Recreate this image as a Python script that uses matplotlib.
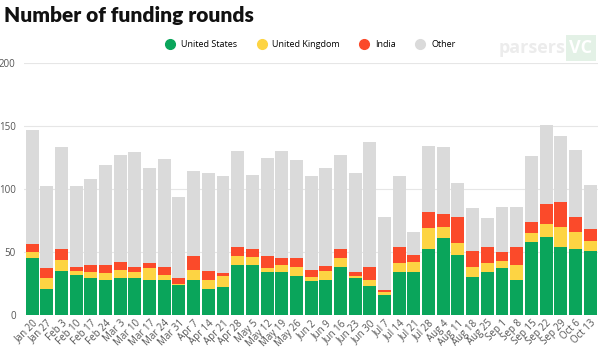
import matplotlib

matplotlib.use("Agg")
import matplotlib.pyplot as plt
import numpy as np

plt.rcParams["font.family"] = ["Open Sans", "DejaVu Sans"]

WEEKS = [
    "Jan 20", "Jan 27", "Feb 3", "Feb 10", "Feb 17", "Feb 24", "Mar 3", "Mar 10",
    "Mar 17", "Mar 24", "Mar 31", "Apr 7", "Apr 14", "Apr 21", "Apr 28", "May 5",
    "May 12", "May 19", "May 26", "Jun 2", "Jun 9", "Jun 16", "Jun 23", "Jun 30",
    "Jul 7", "Jul 14", "Jul 21", "Jul 28", "Aug 4", "Aug 11", "Aug 18", "Aug 25",
    "Sep 1", "Sep 8", "Sep 15", "Sep 22", "Sep 29", "Oct 6", "Oct 13",
]
US = [45, 21, 35, 32, 29, 28, 29, 29, 28, 28, 24, 28, 21, 22, 40, 40, 34, 34, 31, 27,
      28, 38, 29, 23, 16, 34, 34, 52, 61, 48, 30, 34, 37, 28, 58, 62, 54, 52, 51]
UK = [5, 8, 9, 3, 5, 5, 7, 5, 9, 4, 1, 8, 7, 9, 7, 6, 3, 6, 7, 3,
      7, 7, 2, 5, 2, 7, 8, 17, 9, 9, 8, 7, 6, 12, 7, 10, 16, 14, 8]
INDIA = [6, 8, 8, 3, 6, 7, 6, 4, 4, 6, 4, 11, 7, 2, 7, 6, 10, 5, 7, 6,
         4, 7, 3, 10, 2, 13, 6, 13, 10, 21, 13, 13, 7, 14, 9, 16, 20, 12, 9]
OTHER = [91, 65, 81, 64, 68, 79, 85, 91, 76, 86, 65, 67, 78, 77, 76, 59, 78, 85, 78, 74,
         78, 75, 79, 99, 58, 56, 18, 52, 53, 27, 34, 23, 36, 32, 52, 63, 52, 53, 35]

SERIES = [
    ("United States", US, "#0aa55b"),
    ("United Kingdom", UK, "#fdd443"),
    ("India", INDIA, "#fb4a2a"),
    ("Other", OTHER, "#dadada"),
]

fig = plt.figure(figsize=(6, 3.5), dpi=100)
ax = fig.add_axes([0.04, 0.10, 0.957, 0.72])

x = np.arange(len(WEEKS))
bottom = np.zeros(len(WEEKS))
for name, values, color in SERIES:
    ax.bar(x, values, 0.88, bottom=bottom, color=color, label=name, zorder=2)
    bottom += np.array(values)

ax.set_xlim(-0.55, len(WEEKS) - 0.45)
ax.set_ylim(0, 200)
ax.set_yticks([0, 50, 100, 150, 200])
ax.grid(True, axis="y", color="#e6e6e6", lw=0.8, zorder=0)
for side in ax.spines.values():
    side.set_visible(False)
ax.tick_params(axis="both", length=0, labelsize=7, colors="#555555", pad=2)
ax.tick_params(axis="y", pad=6)
ax.set_xticks(x)
ax.set_xticklabels(WEEKS, rotation=45, ha="right", rotation_mode="anchor")

fig.text(0.006, 0.955, "Number of funding rounds", fontsize=15, fontweight="heavy",
         family=["Lato", "DejaVu Sans"], color="#111111", va="center")
# faint watermark at the top right
fig.text(0.942, 0.863, "parsers", fontsize=13, fontweight="bold", color="#ececec",
         ha="right", va="center", zorder=0)
fig.text(0.949, 0.863, "VC", fontsize=13, fontweight="bold", color="white", ha="left",
         va="center", zorder=0,
         bbox=dict(boxstyle="square,pad=0.2", fc="#e3f1e6", ec="none"))

handles = [plt.Line2D([], [], marker="o", ls="", markersize=7, color=c) for _, _, c in SERIES]
fig.legend(handles, [n for n, _, _ in SERIES], loc="center", bbox_to_anchor=(0.514, 0.872),
           ncol=4, frameon=False, fontsize=6.5, handletextpad=0.2, columnspacing=1.7)

fig.savefig("out.png", dpi=100)
